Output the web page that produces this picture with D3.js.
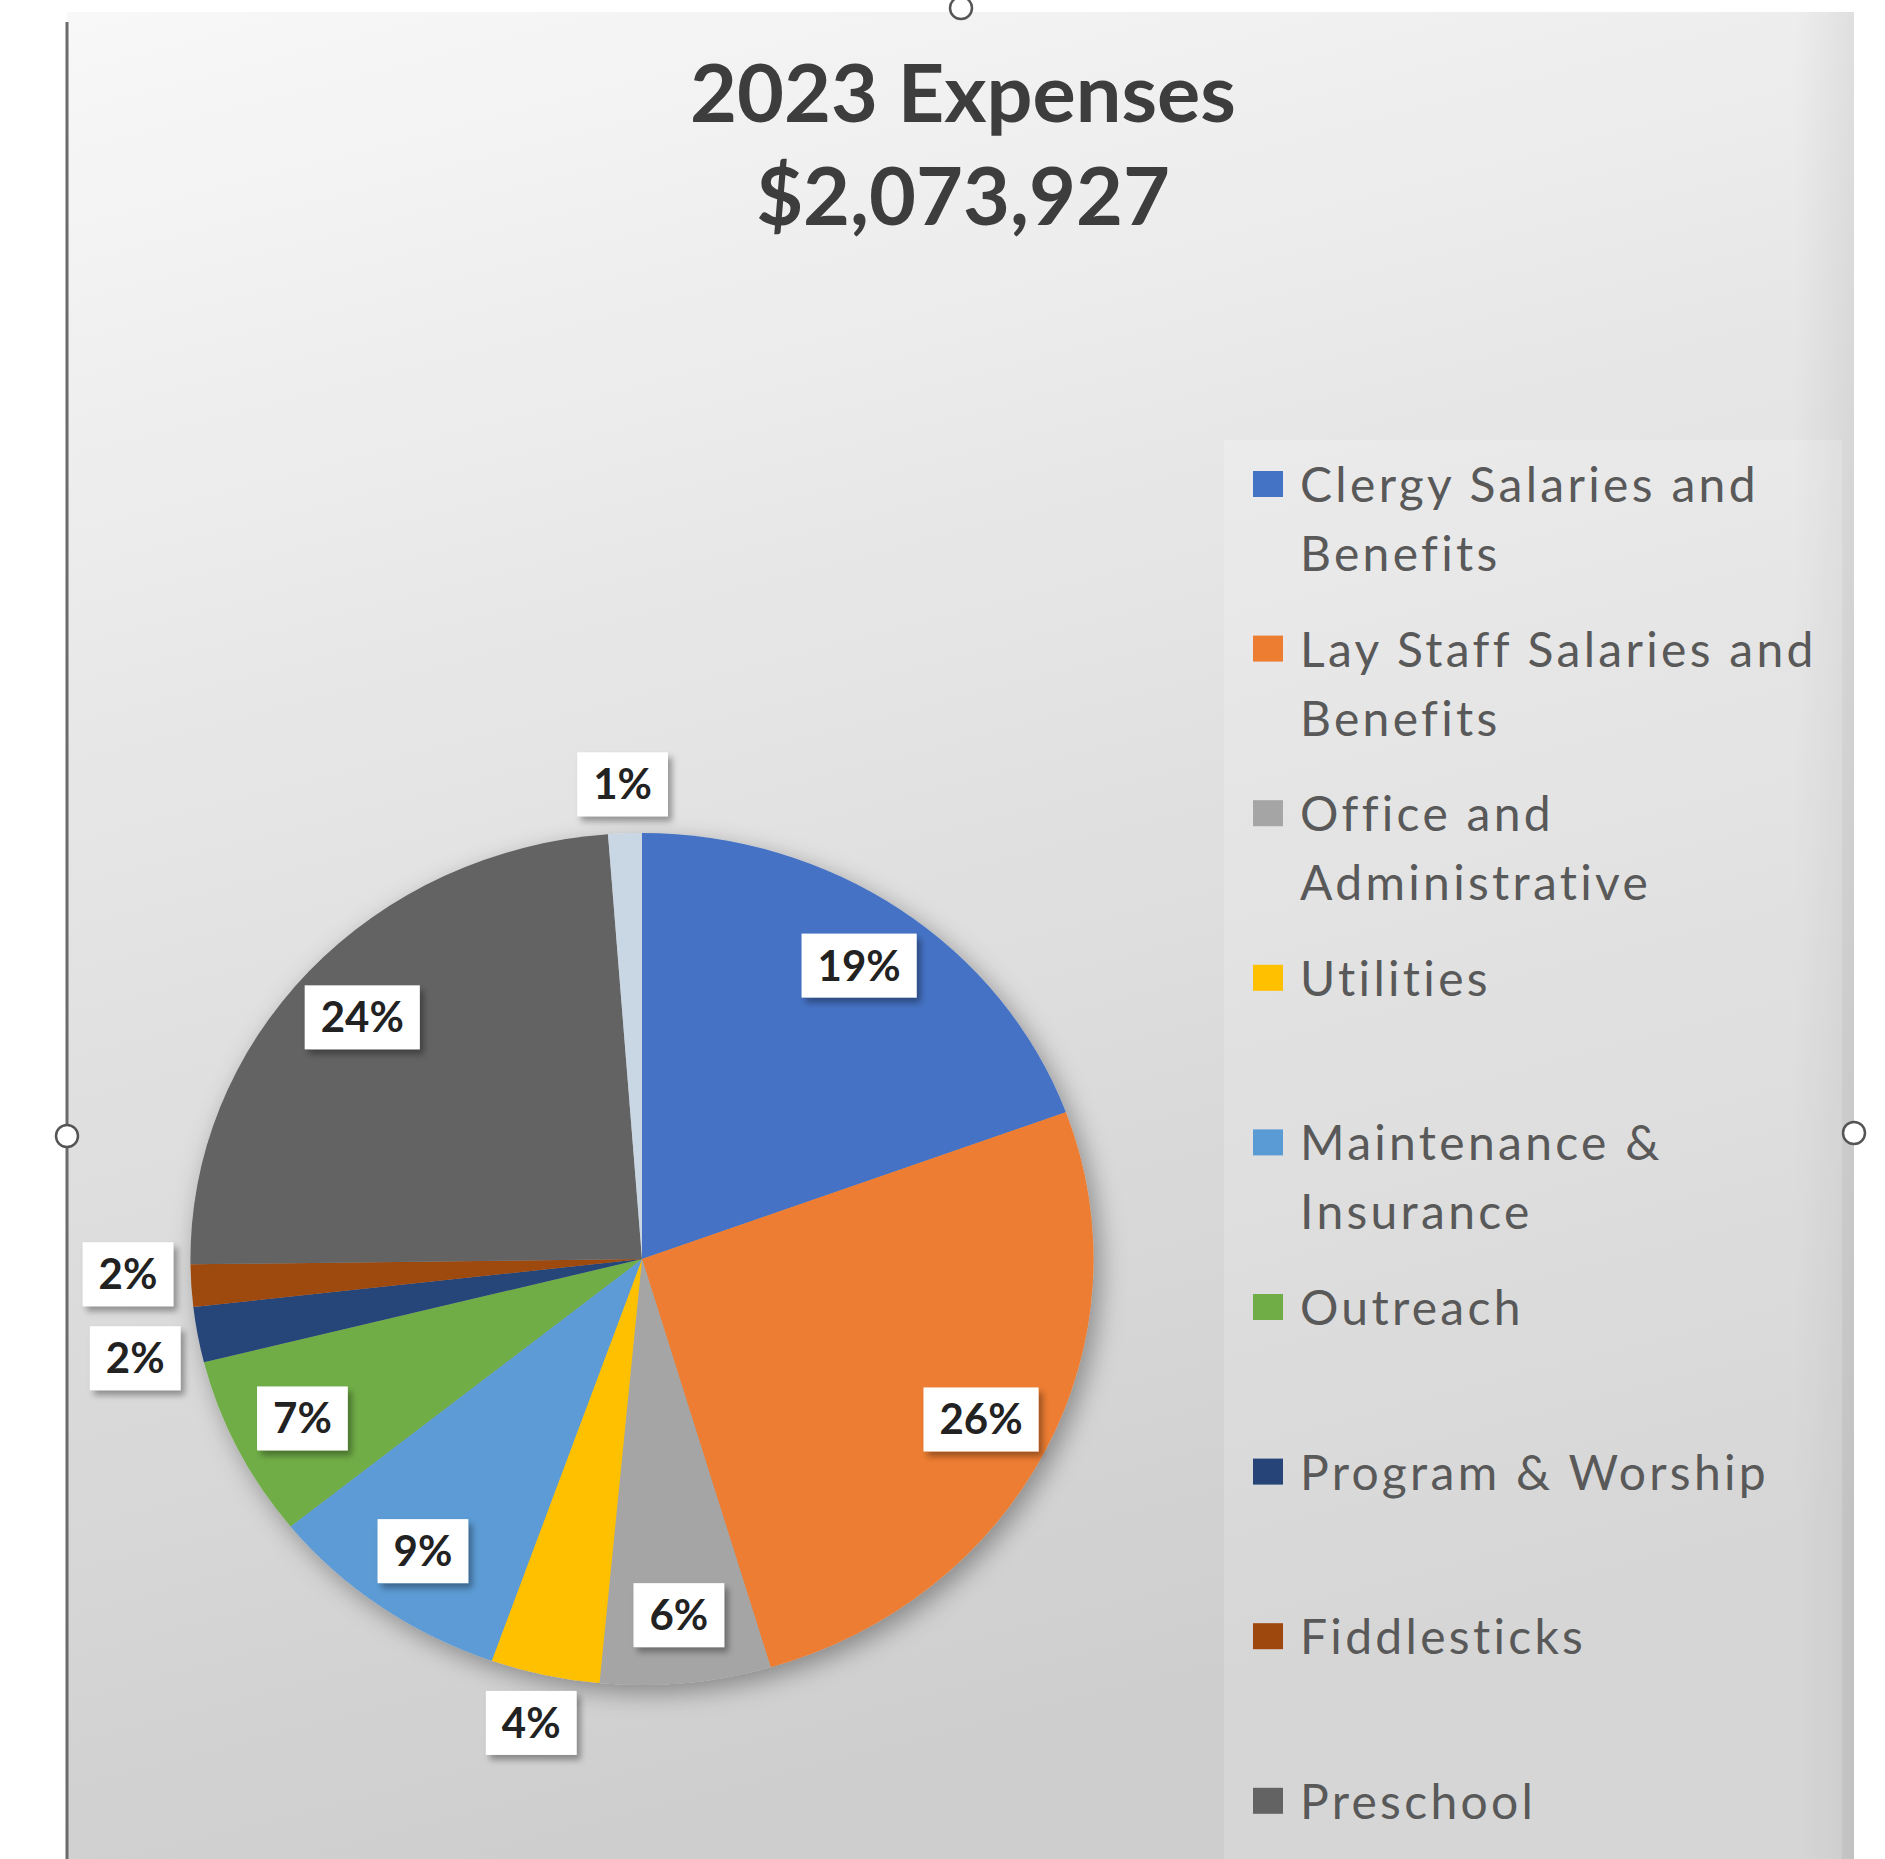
<!DOCTYPE html>
<html lang="en">
<head>
    <meta charset="utf-8">
    <title>2023 Expenses</title>
    <script src="https://d3js.org/d3.v7.min.js"></script>
    <style>
        body {
            margin: 0;
            background: #fff;
        }
        svg {
            display: block;
        }
        .title {
            font-family: Lato, "Open Sans", sans-serif;
            font-weight: bold;
            fill: #3d3d3d;
        }
        .slice-label {
            font-family: Lato, sans-serif;
            font-weight: bold;
            font-size: 42px;
            fill: #222;
        }
        .legend text {
            font-family: Lato, sans-serif;
            font-size: 48px;
            letter-spacing: 3.3px;
            fill: #595959;
        }
    </style>
</head>
<body>
<svg id="chart" width="1885" height="1859"></svg>

<script>
    // Data (percent of total)
    const categories = [
        "Clergy Salaries and Benefits",
        "Lay Staff Salaries and Benefits",
        "Office and Administrative",
        "Utilities",
        "Maintenance & Insurance",
        "Outreach",
        "Program & Worship",
        "Fiddlesticks",
        "Preschool",
        "Other"
    ];
    const values = [19.4, 26.0, 6.1, 3.9, 8.8, 6.9, 2.1, 1.6, 24.0, 1.2];
    const colors = ["#4472c4", "#ed7d31", "#a5a5a5", "#ffc000", "#5b9bd5",
                    "#70ad47", "#264478", "#9e480e", "#636363", "#c9d6e4"];
    const titleLines = ["2023 Expenses", "$2,073,927"];

    const W = 1885, H = 1859;
    const frame = { left: 67, top: 12, right: 1854 };

    // pie geometry (the source picture is slightly stretched sideways)
    const cx = 642, cy = 1259, ry = 426, sx = 1.06;

    const svg = d3.select("#chart");
    const defs = svg.append("defs");

    const bg = defs.append("linearGradient")
        .attr("id", "bg").attr("x1", 0).attr("y1", 0).attr("x2", 0.25).attr("y2", 1);
    bg.append("stop").attr("offset", 0).attr("stop-color", "#f8f8f8");
    bg.append("stop").attr("offset", 0.4).attr("stop-color", "#e6e6e6");
    bg.append("stop").attr("offset", 1).attr("stop-color", "#cecece");

    const edge = defs.append("linearGradient")
        .attr("id", "edge").attr("x1", 0).attr("x2", 1).attr("y1", 0).attr("y2", 0);
    edge.append("stop").attr("offset", 0).attr("stop-color", "#000").attr("stop-opacity", 0);
    edge.append("stop").attr("offset", 1).attr("stop-color", "#000").attr("stop-opacity", 0.06);

    function shadow(id, dx, dy, blur, op) {
        const f = defs.append("filter").attr("id", id)
            .attr("x", "-20%").attr("y", "-20%").attr("width", "150%").attr("height", "150%");
        f.append("feDropShadow")
            .attr("dx", dx).attr("dy", dy)
            .attr("stdDeviation", blur)
            .attr("flood-color", "#000")
            .attr("flood-opacity", op);
    }
    shadow("pieShadow", 6, 8, 12, 0.35);
    shadow("boxShadow", 4, 5, 3, 0.35);

    // chart area background
    svg.append("rect")
        .attr("x", frame.left).attr("y", frame.top)
        .attr("width", frame.right - frame.left).attr("height", H - frame.top)
        .attr("fill", "url(#bg)");
    svg.append("rect")
        .attr("x", frame.right - 60).attr("y", frame.top)
        .attr("width", 60).attr("height", H - frame.top)
        .attr("fill", "url(#edge)");
    svg.append("line")
        .attr("x1", frame.left).attr("x2", frame.left)
        .attr("y1", frame.top + 10).attr("y2", H)
        .attr("stroke", "#6b6b6b").attr("stroke-width", 3);

    // selection handles seen on the edges of the screenshot
    [[961, frame.top - 4], [frame.left, 1136], [frame.right, 1133]].forEach(p => {
        svg.append("circle")
            .attr("cx", p[0]).attr("cy", p[1]).attr("r", 11)
            .attr("fill", "#fff").attr("stroke", "#555").attr("stroke-width", 2.5);
    });

    // title
    svg.append("g").selectAll("text")
        .data(titleLines)
        .enter().append("text")
        .attr("class", "title")
        .attr("x", 963)
        .attr("y", (d, i) => 122 + i * 103)
        .attr("text-anchor", "middle")
        .attr("font-size", 81)
        .text(d => d);

    // pie
    const data = categories.map((name, i) => ({ name, value: values[i], color: colors[i] }));
    const pie = d3.pie().sort(null).value(d => d.value);
    const arcs = pie(data);
    const arc = d3.arc().innerRadius(0).outerRadius(ry);

    svg.append("g")
        .attr("transform", `translate(${cx},${cy}) scale(${sx},1)`)
        .attr("filter", "url(#pieShadow)")
        .selectAll("path")
        .data(arcs)
        .enter().append("path")
        .attr("d", arc)
        .attr("fill", d => d.data.color);

    // data labels: inside for big slices, just outside the rim for small ones
    const boxH = 64, padX = 16;
    const inArc = d3.arc().innerRadius(ry * 0.84).outerRadius(ry * 0.84);
    const rimArc = d3.arc().innerRadius(ry * 1.04).outerRadius(ry * 1.04);

    const labelG = svg.append("g").selectAll("g")
        .data(arcs)
        .enter().append("g");

    labelG.append("rect")
        .attr("fill", "#fff")
        .attr("filter", "url(#boxShadow)");

    labelG.append("text")
        .attr("class", "slice-label")
        .attr("text-anchor", "middle")
        .attr("y", 15)
        .text(d => Math.round(d.data.value) + "%");

    const placed = [];
    labelG.each(function (a) {
        const g = d3.select(this);
        const tw = g.select("text").node().getComputedTextLength();
        const bw = tw + padX * 2;
        g.select("rect")
            .attr("x", -bw / 2).attr("y", -boxH / 2)
            .attr("width", bw).attr("height", boxH);
        const outside = a.data.value < 5;
        let x, y;
        if (outside) {
            const c = rimArc.centroid(a);
            const mid = (a.startAngle + a.endAngle) / 2;
            x = cx + sx * c[0] + Math.sin(mid) * bw / 2;
            y = cy + c[1] - Math.cos(mid) * boxH / 2;
        } else {
            const c = inArc.centroid(a);
            x = cx + sx * c[0];
            y = cy + c[1];
        }
        placed.push({ g, x, y, outside, left: x < cx });
    });

    // push apart outside labels on the left that would overlap
    const minGap = 84;
    const outs = placed.filter(d => d.outside && d.left).sort((p, q) => p.y - q.y);
    for (let k = 0; k < 20; k++) {
        for (let i = 1; i < outs.length; i++) {
            const gap = outs[i].y - outs[i - 1].y;
            if (gap < minGap && Math.abs(outs[i].x - outs[i - 1].x) < 120) {
                const push = (minGap - gap) / 2;
                outs[i].y += push;
                outs[i - 1].y -= push;
            }
        }
    }
    placed.forEach(p => p.g.attr("transform", `translate(${p.x},${p.y})`));

    // legend
    const legX = 1253, legY = 484, legStep = 164.6, lineH = 69, wrapW = 545;

    svg.append("rect")
        .attr("x", 1224).attr("y", 440)
        .attr("width", frame.right - 1224 - 12).attr("height", H - 440)
        .attr("fill", "#fff").attr("opacity", 0.18);

    const shown = data.filter((d, i) => legY + i * legStep < H - 20);
    const legend = svg.append("g").attr("class", "legend")
        .selectAll("g")
        .data(shown)
        .enter().append("g")
        .attr("transform", (d, i) => `translate(${legX},${legY + i * legStep})`);

    legend.append("rect")
        .attr("x", 0).attr("y", -13)
        .attr("width", 30).attr("height", 26)
        .attr("fill", d => d.color);

    legend.each(function (d) {
        const g = d3.select(this);
        const words = d.name.split(" ");
        let line = [];
        let lineNo = 0;
        let tspan = g.append("text").attr("x", 47).attr("y", 18);
        for (const w of words) {
            line.push(w);
            tspan.text(line.join(" "));
            if (tspan.node().getComputedTextLength() > wrapW && line.length > 1) {
                line.pop();
                tspan.text(line.join(" "));
                line = [w];
                lineNo++;
                tspan = g.append("text").attr("x", 47).attr("y", 18 + lineNo * lineH).text(w);
            }
        }
    });
</script>
</body>
</html>
